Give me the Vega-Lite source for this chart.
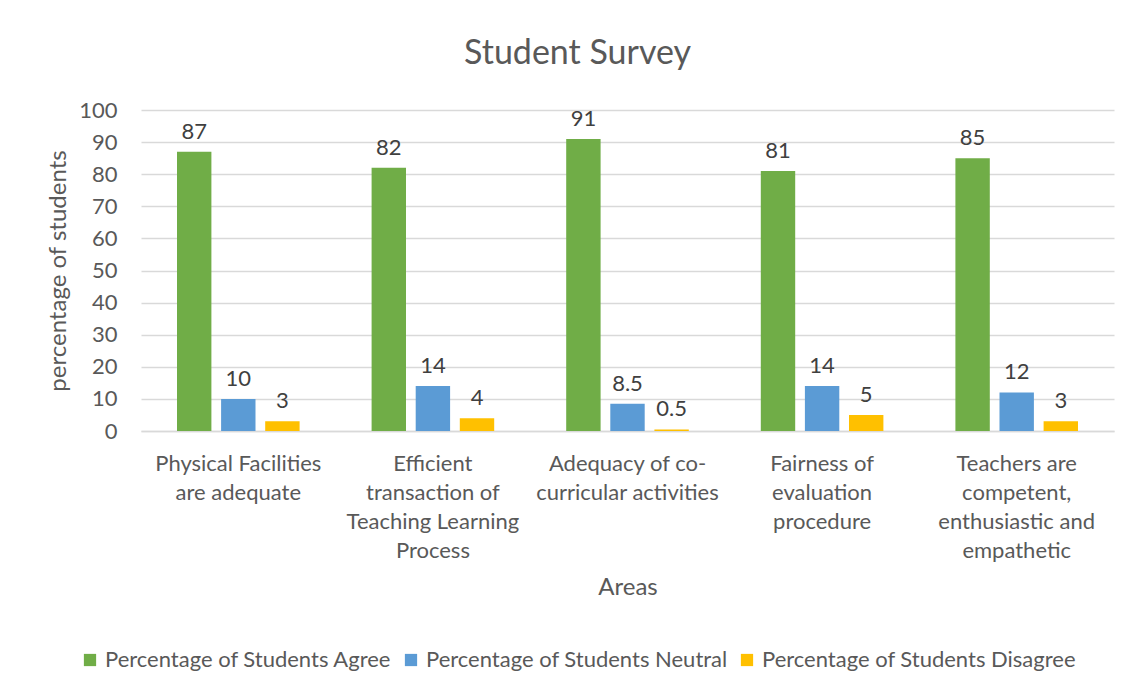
{
  "$schema": "https://vega.github.io/schema/vega-lite/v6.json",
  "width": 973,
  "height": 321,
  "padding": {"left": 46, "top": 37, "right": 17, "bottom": 10},
  "background": "white",
  "config": {"view": {"stroke": null}},
  "title": {
    "text": "Student Survey",
    "font": "Lato",
    "fontSize": 34,
    "fontWeight": "normal",
    "color": "#595959",
    "offset": 28,
    "anchor": "middle",
    "frame": "group",
    "dx": -50
  },
  "data": {
    "values": [
      {"area": "Physical Facilities are adequate", "series": "Percentage of Students Agree", "value": 87},
      {"area": "Physical Facilities are adequate", "series": "Percentage of Students Neutral", "value": 10},
      {"area": "Physical Facilities are adequate", "series": "Percentage of Students Disagree", "value": 3},
      {"area": "Efficient transaction of Teaching Learning Process", "series": "Percentage of Students Agree", "value": 82},
      {"area": "Efficient transaction of Teaching Learning Process", "series": "Percentage of Students Neutral", "value": 14},
      {"area": "Efficient transaction of Teaching Learning Process", "series": "Percentage of Students Disagree", "value": 4},
      {"area": "Adequacy of co-curricular activities", "series": "Percentage of Students Agree", "value": 91},
      {"area": "Adequacy of co-curricular activities", "series": "Percentage of Students Neutral", "value": 8.5},
      {"area": "Adequacy of co-curricular activities", "series": "Percentage of Students Disagree", "value": 0.5},
      {"area": "Fairness of evaluation procedure", "series": "Percentage of Students Agree", "value": 81},
      {"area": "Fairness of evaluation procedure", "series": "Percentage of Students Neutral", "value": 14},
      {"area": "Fairness of evaluation procedure", "series": "Percentage of Students Disagree", "value": 5},
      {"area": "Teachers are competent, enthusiastic and empathetic", "series": "Percentage of Students Agree", "value": 85},
      {"area": "Teachers are competent, enthusiastic and empathetic", "series": "Percentage of Students Neutral", "value": 12},
      {"area": "Teachers are competent, enthusiastic and empathetic", "series": "Percentage of Students Disagree", "value": 3}
    ]
  },
  "encoding": {
    "x": {
      "field": "area",
      "type": "nominal",
      "sort": null,
      "scale": {"paddingInner": 0.37, "paddingOuter": 0.185},
      "axis": {
        "title": "Areas",
        "titleFont": "Lato",
        "titleFontSize": 24,
        "titleFontWeight": "normal",
        "titleColor": "#595959",
        "titlePadding": 14,
        "labelAngle": 0,
        "labelFont": "Lato",
        "labelFontSize": 22,
        "labelColor": "#595959",
        "labelLineHeight": 29,
        "labelPadding": 22,
        "labelLimit": 300,
        "ticks": false,
        "domainColor": "#d9d9d9",
        "domainWidth": 1.5,
        "labelExpr": "datum.value == 'Physical Facilities are adequate' ? ['Physical Facilities', 'are adequate'] : datum.value == 'Efficient transaction of Teaching Learning Process' ? ['Efficient', 'transaction of', 'Teaching Learning', 'Process'] : datum.value == 'Adequacy of co-curricular activities' ? ['Adequacy of co-', 'curricular activities'] : datum.value == 'Fairness of evaluation procedure' ? ['Fairness of', 'evaluation', 'procedure'] : ['Teachers are', 'competent,', 'enthusiastic and', 'empathetic']"
      }
    },
    "xOffset": {
      "field": "series",
      "type": "nominal",
      "sort": ["Percentage of Students Agree", "Percentage of Students Neutral", "Percentage of Students Disagree"],
      "scale": {"paddingInner": 0.22}
    },
    "y": {
      "field": "value",
      "type": "quantitative",
      "scale": {"domain": [0, 100]},
      "axis": {
        "title": "percentage of students",
        "titleFont": "Lato",
        "titleFontSize": 24,
        "titleFontWeight": "normal",
        "titleColor": "#595959",
        "titlePadding": 8,
        "values": [0, 10, 20, 30, 40, 50, 60, 70, 80, 90, 100],
        "labelFont": "Lato",
        "labelFontSize": 22,
        "labelColor": "#595959",
        "labelPadding": 24,
        "ticks": false,
        "domain": false,
        "gridColor": "#d9d9d9",
        "gridWidth": 1.5
      }
    }
  },
  "layer": [
    {
      "mark": {"type": "bar"},
      "encoding": {
        "color": {
          "field": "series",
          "type": "nominal",
          "sort": ["Percentage of Students Agree", "Percentage of Students Neutral", "Percentage of Students Disagree"],
          "scale": {
            "domain": ["Percentage of Students Agree", "Percentage of Students Neutral", "Percentage of Students Disagree"],
            "range": ["#70AD47", "#5B9BD5", "#FFC000"]
          },
          "legend": {
            "title": null,
            "orient": "none",
            "legendX": -62,
            "legendY": 539,
            "direction": "horizontal",
            "symbolType": "square",
            "symbolSize": 150,
            "symbolStrokeWidth": 0,
            "labelFont": "Lato",
            "labelFontSize": 22,
            "labelColor": "#595959",
            "labelLimit": 400,
            "labelOffset": 4,
            "columnPadding": 8,
            "symbolOffset": 0
          }
        }
      }
    },
    {
      "mark": {"type": "text", "baseline": "bottom", "dy": -8, "font": "Lato", "fontSize": 22, "color": "#404040"},
      "encoding": {
        "text": {"field": "value", "type": "quantitative"}
      }
    }
  ]
}
